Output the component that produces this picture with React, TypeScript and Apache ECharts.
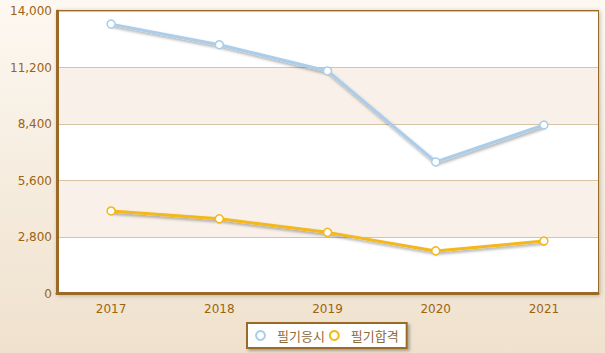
import React, { useEffect, useRef } from "react";
import * as echarts from "echarts";

const categories = ["2017", "2018", "2019", "2020", "2021"];
const appliedValues = [13350, 12330, 11030, 6520, 8350];
const passedValues = [4090, 3700, 3030, 2110, 2600];
const seriesNames = ["필기응시", "필기합격"];
const seriesColors = ["#a9cdea", "#f2b81a"];

export default function App() {
  const ref = useRef<HTMLDivElement>(null);
  useEffect(() => {
    document.body.style.margin = "0";
    const chart = echarts.init(ref.current!, null, { renderer: "svg" });
    const labelColor = "#9c6410";
    const brown = "#9a6a26";
    const mkSeries = (i: number, data: number[]) => ({
      name: seriesNames[i],
      type: "line",
      data,
      symbol: "circle",
      symbolSize: 8,
      color: seriesColors[i],
      itemStyle: { color: "#ffffff", borderColor: seriesColors[i], borderWidth: 1.5 },
      lineStyle: {
        color: seriesColors[i],
        width: 3,
        shadowColor: "rgba(0,0,0,0.35)",
        shadowBlur: 3,
        shadowOffsetX: 1,
        shadowOffsetY: 2,
      },
    });
    chart.setOption({
      animation: false,
      backgroundColor: new echarts.graphic.LinearGradient(0, 0, 0, 1, [
        { offset: 0, color: "#fdf8f1" },
        { offset: 1, color: "#efe1cd" },
      ]),
      grid: {
        left: 57,
        right: 7,
        top: 11,
        bottom: 59.5,
        show: true,
        backgroundColor: "#ffffff",
        borderColor: brown,
        borderWidth: 2,
        shadowColor: "rgba(0,0,0,0.25)",
        shadowBlur: 4,
        shadowOffsetX: 1,
        shadowOffsetY: 1,
      },
      xAxis: {
        type: "category",
        data: categories,
        boundaryGap: true,
        axisLine: { lineStyle: { color: brown, width: 3 } },
        axisTick: { show: false },
        axisLabel: { color: labelColor, fontFamily: "DejaVu Sans", fontSize: 12, margin: 9 },
      },
      yAxis: {
        type: "value",
        min: 0,
        max: 14000,
        interval: 2800,
        axisLine: { show: true, lineStyle: { color: brown, width: 3 } },
        axisTick: { show: false },
        axisLabel: {
          color: labelColor,
          fontFamily: "DejaVu Sans",
          fontSize: 12,
          margin: 5,
          formatter: (v: number) => v.toLocaleString("en-US"),
        },
        splitLine: { lineStyle: { color: "#d9c3a5", width: 1 } },
        splitArea: { show: true, areaStyle: { color: ["#ffffff", "#f9f1e9"] } },
      },
      legend: {
        bottom: 5,
        left: 247,
        icon: "circle",
        itemWidth: 9,
        itemHeight: 9,
        itemGap: 4,
        padding: [6, 8, 6, 8],
        backgroundColor: "#ffffff",
        borderColor: brown,
        borderWidth: 2,
        shadowColor: "rgba(0,0,0,0.3)",
        shadowBlur: 3,
        shadowOffsetX: 2,
        shadowOffsetY: 2,
        textStyle: {
          color: "#8e6a3a",
          fontFamily: "Noto Sans CJK KR",
          fontSize: 13,
          padding: [0, 0, 0, 7],
        },
        data: seriesNames.map((n, i) => ({
          name: n,
          itemStyle: { color: "#ffffff", borderColor: seriesColors[i], borderWidth: 2 },
        })),
      },
      series: [mkSeries(0, appliedValues), mkSeries(1, passedValues)],
    });
    return () => chart.dispose();
  }, []);
  return <div ref={ref} style={{ width: 605, height: 353 }} />;
}
